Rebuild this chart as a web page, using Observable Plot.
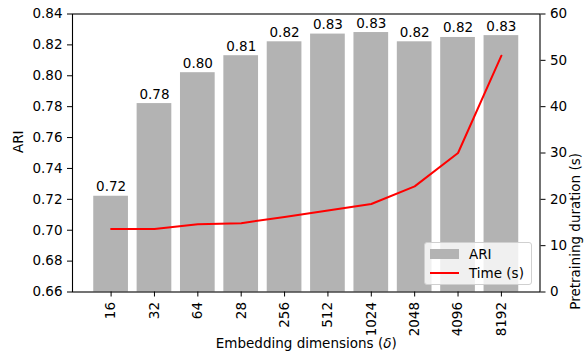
<!DOCTYPE html>
<html><head><meta charset="utf-8">
<script src="https://cdn.jsdelivr.net/npm/d3@7"></script>
<script src="https://cdn.jsdelivr.net/npm/@observablehq/plot@0.6"></script>
<style>
body{margin:0;background:#fff;}
#wrap{position:relative;width:584px;height:356px;font-family:"DejaVu Sans",sans-serif;}
.legend{position:absolute;left:424px;top:242px;width:108px;height:43px;background:rgba(255,255,255,0.8);border:1px solid #d0d0d0;border-radius:3px;box-sizing:border-box;font-size:13.5px;color:#000;}
.legend .row{position:absolute;left:0;height:16px;line-height:16px;}
.legend .sw{position:absolute;left:5px;width:29px;}
.legend .lab{position:absolute;left:44px;white-space:nowrap;}
</style></head><body><div id="wrap"></div>
<script>
const dims = ["16","32","64","28","256","512","1024","2048","4096","8192"];
const ari = [0.722,0.782,0.802,0.813,0.822,0.827,0.828,0.822,0.8248,0.826];
const timeSec = [13.6,13.6,14.6,14.85,16.2,17.6,19.0,22.8,30.0,51.0];
const ariTicks = [0.66,0.68,0.70,0.72,0.74,0.76,0.78,0.80,0.82,0.84];
const timeTicks = [0,10,20,30,40,50,60];
const ariDomain = [0.66,0.84];
const timeDomain = [0,60];

const t2a = d3.scaleLinear(timeDomain, ariDomain);
const data = dims.map((d,i)=>({i, dim:d, ari:ari[i], t:timeSec[i]}));
const fs = 13.5;
const xLabel = "Embedding dimensions (δ)";

const chart = Plot.plot({
  width:584, height:356,
  marginLeft:72, marginRight:44.5, marginTop:13.5, marginBottom:64.5,
  style:{fontFamily:"DejaVu Sans, sans-serif", fontSize:fs+"px", color:"#000", background:"#fff"},
  x:{type:"linear", domain:[-0.89, 9.89], axis:null},
  y:{domain:ariDomain, axis:null},
  marks:[
    Plot.rect(data,{x1:d=>d.i-0.4, x2:d=>d.i+0.4, y1:ariDomain[0], y2:"ari", fill:"#b3b3b3"}),
    Plot.text(data,{x:"i", y:"ari", text:d=>d.ari.toFixed(2), lineAnchor:"bottom", dy:-5, fontSize:fs, fill:"#000"}),
    Plot.line(data,{x:"i", y:d=>t2a(d.t), stroke:"#ff0000", strokeWidth:2}),
    Plot.frame({stroke:"#000", strokeWidth:1.1}),
    Plot.axisY(ariTicks,{anchor:"left", tickSize:5, tickPadding:5, tickFormat:d=>d.toFixed(2), label:null, fontSize:fs}),
    Plot.axisY(timeTicks.map(t=>t2a(t)),{anchor:"right", tickSize:5, tickPadding:5, tickFormat:d=>String(Math.round(t2a.invert(d))), label:null, fontSize:fs}),
    Plot.axisX(dims.map((d,i)=>i),{anchor:"bottom", tickSize:5, tickPadding:5, tickRotate:-90, tickFormat:i=>dims[i], label:null, fontSize:fs}),
    Plot.text(["ARI"],{frameAnchor:"left", dx:-54, rotate:-90, text:d=>d, fontSize:fs}),
    Plot.text(["Pretraining duration (s)"],{frameAnchor:"right", dx:36, rotate:-90, text:d=>d, fontSize:fs}),
    Plot.text([xLabel],{frameAnchor:"bottom", dy:56, text:d=>d, fontSize:fs})
  ]
});
// italicize the delta symbol in the x label
chart.querySelectorAll("text").forEach(t=>{
  if (t.textContent === xLabel) {
    const ns = "http://www.w3.org/2000/svg";
    t.textContent = "";
    const a = document.createElementNS(ns,"tspan"); a.textContent = "Embedding dimensions (";
    const b = document.createElementNS(ns,"tspan"); b.textContent = "δ"; b.setAttribute("font-style","italic");
    const c = document.createElementNS(ns,"tspan"); c.textContent = ")";
    t.append(a,b,c);
  }
});
const wrap = document.getElementById("wrap");
wrap.appendChild(chart);
const leg = document.createElement("div");
leg.className = "legend";
leg.innerHTML = `
<div class="row" style="top:3px;width:100%"><div class="sw" style="top:3px;height:10px;background:#b3b3b3"></div><div class="lab">ARI</div></div>
<div class="row" style="top:22px;width:100%"><div class="sw" style="top:7px;height:2px;background:#ff0000"></div><div class="lab">Time (s)</div></div>`;
wrap.appendChild(leg);
</script>
</body></html>
